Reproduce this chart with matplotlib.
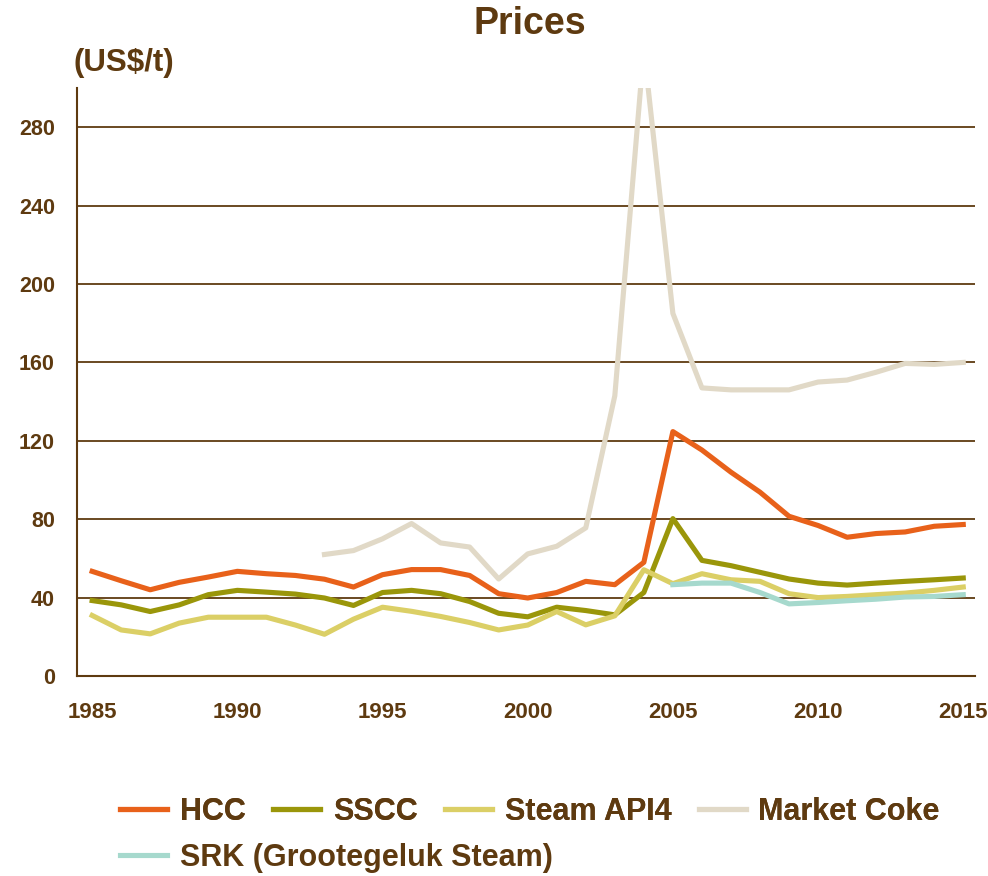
import matplotlib
matplotlib.use("Agg")
import matplotlib.pyplot as plt
import numpy as np

# Dane (US$/t)
lata = list(range(1985, 2016))
hcc = [53.4, 48.6, 44.0, 47.8, 50.5, 53.4, 52.2, 51.3, 49.4, 45.4,
       51.7, 54.3, 54.3, 51.3, 42.0, 39.8, 42.6, 48.3, 46.6, 58.0,
       124.7, 115.3, 104.0, 93.8, 81.5, 76.8, 70.8, 72.7, 73.5, 76.4, 77.3]
sscc = [38.5, 36.3, 32.9, 36.3, 41.5, 43.7, 42.8, 41.8, 39.8, 36.0,
        42.6, 43.7, 42.0, 38.0, 32.0, 30.2, 35.1, 33.4, 31.2, 42.6,
        80.3, 59.0, 56.3, 52.9, 49.5, 47.4, 46.4, 47.4, 48.3, 49.1, 50.0]
steam_api4 = [30.9, 23.5, 21.5, 27.0, 30.0, 30.0, 30.0, 26.0, 21.3, 29.0,
              35.1, 33.0, 30.4, 27.3, 23.5, 26.0, 32.9, 26.1, 30.7, 54.2,
              47.1, 52.2, 49.1, 48.3, 42.0, 40.0, 40.6, 41.5, 42.3, 43.7, 45.4]

lata_koks = list(range(1993, 2016))
market_coke = [62.0, 64.0, 70.0, 77.8, 67.9, 65.8, 49.5, 62.3, 66.2, 75.6,
               143.0, 320.0, 185.0, 147.0, 146.0, 146.0, 146.0, 150.0, 151.0,
               155.0, 159.5, 159.0, 160.0]

lata_srk = list(range(2005, 2016))
srk = [46.6, 47.4, 47.4, 42.6, 36.8, 37.5, 38.4, 39.2, 40.3, 40.6, 41.5]

BRAZ = '#5E3A10'
plt.rcParams['font.family'] = ['Liberation Sans', 'DejaVu Sans']
plt.rcParams['font.weight'] = 'bold'

fig = plt.figure(figsize=(9.88, 8.76), dpi=100)
ax = fig.add_axes([0.078, 0.2283, 0.909, 0.6712])

lw = 3.7
l_coke, = ax.plot(lata_koks, market_coke, color='#E1D9C7', lw=lw, label='Market Coke', zorder=2)
l_hcc, = ax.plot(lata, hcc, color='#E8611A', lw=lw, label='HCC', zorder=3)
l_sscc, = ax.plot(lata, sscc, color='#9A960A', lw=lw, label='SSCC', zorder=3)
l_steam, = ax.plot(lata, steam_api4, color='#DBCF66', lw=lw, label='Steam API4', zorder=4)
l_srk, = ax.plot(lata_srk, srk, color='#A6D9CD', lw=lw, label='SRK (Grootegeluk Steam)', zorder=5)

ax.set_xlim(1984.48, 2015.41)
ax.set_ylim(0, 300)
ax.set_xticks([1985, 1990, 1995, 2000, 2005, 2010, 2015])
ax.set_yticks([0, 40, 80, 120, 160, 200, 240, 280])
for y in [40, 80, 120, 160, 200, 240, 280]:
    ax.axhline(y, color=BRAZ, lw=1.3, zorder=1)

for s in ['top', 'right']:
    ax.spines[s].set_visible(False)
for s in ['left', 'bottom']:
    ax.spines[s].set_color(BRAZ)
    ax.spines[s].set_linewidth(1.5)
ax.tick_params(axis='y', length=0, pad=16, labelsize=15.5, labelcolor=BRAZ)
ax.tick_params(axis='x', length=0, pad=19, labelsize=16, labelcolor=BRAZ)

fig.text(0.536, 0.973, 'Prices', ha='center', va='center', fontsize=27,
         fontweight='bold', color=BRAZ)
fig.text(73 / 988, 0.928, '(US$/t)', ha='left', va='center', fontsize=22.5,
         fontweight='bold', color=BRAZ)

# Legenda w dwóch wierszach
opcje = dict(frameon=False, fontsize=22, handlelength=1.54, handletextpad=0.42,
             columnspacing=0.89, borderpad=0, borderaxespad=0, labelcolor=BRAZ,
             loc='center left')
leg1 = fig.legend([l_hcc, l_sscc, l_steam, l_coke],
                  ['HCC', 'SSCC', 'Steam API4', 'Market Coke'], ncol=4,
                  bbox_to_anchor=(120 / 988, 0.0735), **opcje)
leg2 = fig.legend([l_srk], ['SRK (Grootegeluk Steam)'],
                  bbox_to_anchor=(120 / 988, 0.0205), **opcje)
fig.add_artist(leg1)

fig.savefig('out.png', dpi=100)
